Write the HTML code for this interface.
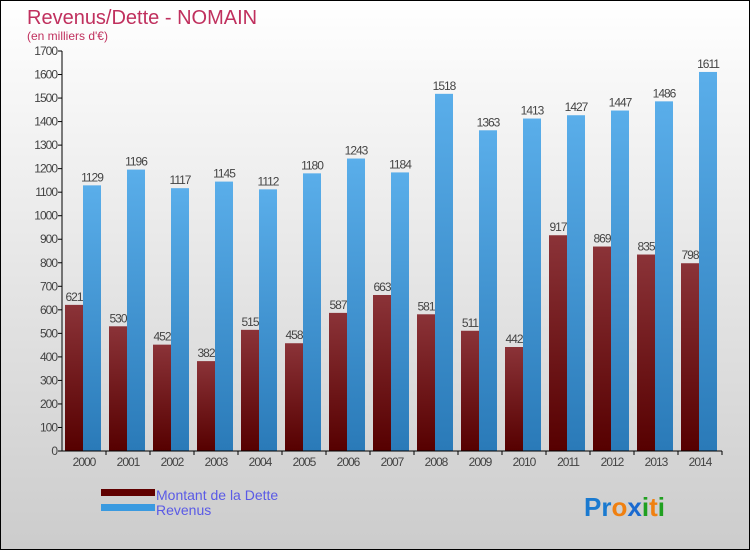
<!DOCTYPE html>
<html><head><meta charset="utf-8"><style>
body{margin:0}
#c{width:748px;height:548px;border:1px solid #000;background:linear-gradient(#fff,#ccc);position:relative;font-family:"Liberation Sans",sans-serif}
</style></head><body>
<div id="c">
<svg id="s" width="748" height="548">
<defs>
<linearGradient id="gd" x1="0" y1="0" x2="0" y2="1"><stop offset="0" stop-color="#8b3338"/><stop offset="1" stop-color="#560000"/></linearGradient>
<linearGradient id="gr" x1="0" y1="0" x2="0" y2="1"><stop offset="0" stop-color="#5aaeea"/><stop offset="1" stop-color="#2a7ab8"/></linearGradient>
</defs>
<text x="26" y="23" font-size="20" fill="#c0305e">Revenus/Dette - NOMAIN</text>
<text x="26" y="39" font-size="12" fill="#c0305e">(en milliers d'€)</text>
<g id="plot"></g>
<rect x="100" y="488" width="54" height="7" fill="#600000"/>
<text x="155" y="499" font-size="14" fill="#5a5ae6">Montant de la Dette</text>
<rect x="100" y="503" width="54" height="7" fill="#3a9ae0"/>
<text x="155" y="514" font-size="14" fill="#5a5ae6">Revenus</text>
<text x="583" y="515" font-size="26" font-weight="bold"><tspan fill="#1a7ad0">Pr</tspan><tspan fill="#f08010">o</tspan><tspan fill="#1a6ad0">x</tspan><tspan fill="#20a020">i</tspan><tspan fill="#f08010">t</tspan><tspan fill="#20a020">i</tspan></text>
</svg></div>
<script>
const years=["2000","2001","2002","2003","2004","2005","2006","2007","2008","2009","2010","2011","2012","2013","2014"];
const dette=[621,530,452,382,515,458,587,663,581,511,442,917,869,835,798];
const revenus=[1129,1196,1117,1145,1112,1180,1243,1184,1518,1363,1413,1427,1447,1486,1611];
const ticks=[0,100,200,300,400,500,600,700,800,900,1000,1100,1200,1300,1400,1500,1600,1700];
const NS="http://www.w3.org/2000/svg",g=document.getElementById('plot');
const y=v=>450-v*400/1700, xc=i=>83+44*i;
function mk(t,a){const e=document.createElementNS(NS,t);for(const k in a)e.setAttribute(k,a[k]);g.appendChild(e);return e;}
ticks.forEach(t=>{
 const l=mk('line',{x1:57,x2:61,y1:y(t),y2:y(t),stroke:'#000'});
 
 
 const tx=mk('text',{x:56,y:y(t)+4,'text-anchor':'end','font-size':12,fill:'#444','letter-spacing':'-1'});tx.textContent=t;
 
 
});
years.forEach((yr,i)=>{
 const c=xc(i);
 const b1=mk('rect',{x:c-19,y:y(dette[i]),width:19,height:450-y(dette[i]),fill:'url(#gd)'});
 
 
 const b2=mk('rect',{x:c-1,y:y(revenus[i]),width:18,height:450-y(revenus[i]),fill:'url(#gr)'});
 
 
 const t1=mk('text',{x:c-10,y:y(dette[i])-4,'text-anchor':'middle','font-size':12,fill:'#444','letter-spacing':'-1'});t1.textContent=dette[i];
 
 
 const t2=mk('text',{x:c+8,y:y(revenus[i])-4,'text-anchor':'middle','font-size':12,fill:'#444','letter-spacing':'-1'});t2.textContent=revenus[i];
 
 
 const tk=mk('line',{x1:c+22,x2:c+22,y1:450,y2:454,stroke:'#000'});
 
 
 const xl=mk('text',{x:c,y:465,'text-anchor':'middle','font-size':12,fill:'#444','letter-spacing':'-1'});xl.textContent=yr;
 
 
});
const ya=mk('line',{x1:61,x2:61,y1:50,y2:450,stroke:'#000'});


const xa=mk('line',{x1:61,x2:721,y1:450,y2:450,stroke:'#000'});


</script>
</body></html>
